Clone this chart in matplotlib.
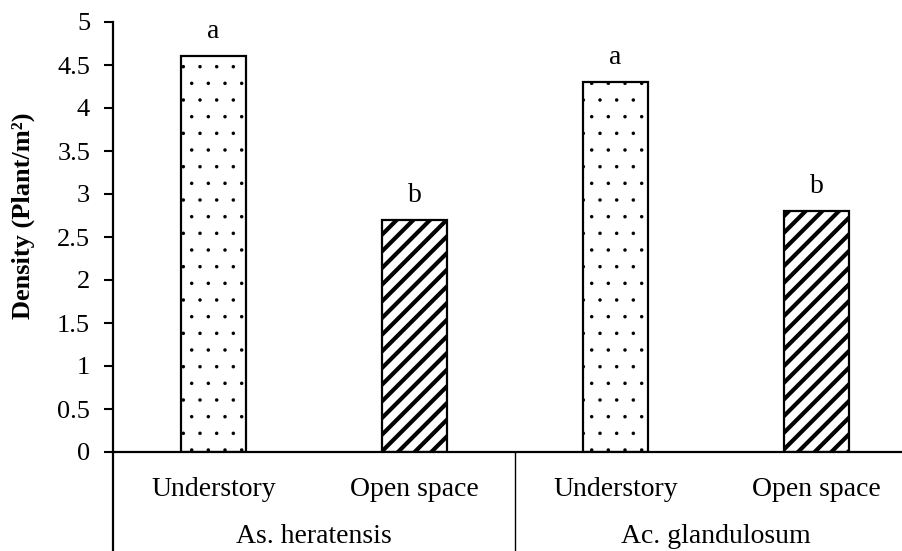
import matplotlib.pyplot as plt
import numpy as np

plt.rcParams['font.family'] = ['Liberation Serif', 'DejaVu Serif']

species = ['As. heratensis', 'Ac. glandulosum']
habitats = ['Understory', 'Open space', 'Understory', 'Open space']
density = [4.6, 2.7, 4.3, 2.8]
letters = ['a', 'b', 'a', 'b']
hatches = ['.', '//', '.', '//']

fig = plt.figure(figsize=(9.03, 5.51), dpi=100)
ax = fig.add_axes([113 / 903, 99 / 551, 790 / 903, 430 / 551])

x = np.arange(len(density))
for xi, val, h in zip(x, density, hatches):
    # dots are fine, stripes are heavy
    with plt.rc_context({'hatch.linewidth': 0.1 if h == '.' else 3.0}):
        ax.bar(xi, val, width=0.32, color='white', edgecolor='black',
               linewidth=1.6, hatch=h)

for xi, val, lab in zip(x, density, letters):
    ax.annotate(lab, (xi, val), xytext=(0, 13), textcoords='offset points',
                ha='center', va='baseline', fontsize=20)

ax.set_xlim(-0.5, -0.5 + 790 / 201)
ax.set_ylim(0, 5)
ax.set_yticks(np.arange(0, 5.01, 0.5))
ax.set_yticklabels(['0', '0.5', '1', '1.5', '2', '2.5', '3', '3.5', '4', '4.5', '5'])
ax.tick_params(axis='y', labelsize=19, length=6.5, width=1.5, direction='out', pad=10)
ax.set_xticks([])

for s in ['top', 'right']:
    ax.spines[s].set_visible(False)
ax.spines['left'].set_linewidth(1.6)
ax.spines['bottom'].set_linewidth(1.6)

ax.set_ylabel('Density (Plant/m²)', fontsize=19, fontweight='bold', va='center')
ax.yaxis.set_label_coords(-0.113, 0.549)

# two level category axis
tr = ax.get_xaxis_transform()
for xi, lab in zip(x, habitats):
    ax.text(xi, -0.1023, lab, transform=tr, ha='center', va='baseline', fontsize=20)
for i, sp in enumerate(species):
    ax.text(2 * i + 0.5, -0.2105, sp, transform=tr, ha='center', va='baseline', fontsize=20)
for xv in [-0.5, 1.5]:
    ax.plot([xv, xv], [0, -0.3], transform=tr, color='black', lw=1.6 if xv < 0 else 1.0,
            clip_on=False)

fig.savefig('out.png', dpi=100, facecolor='white')
